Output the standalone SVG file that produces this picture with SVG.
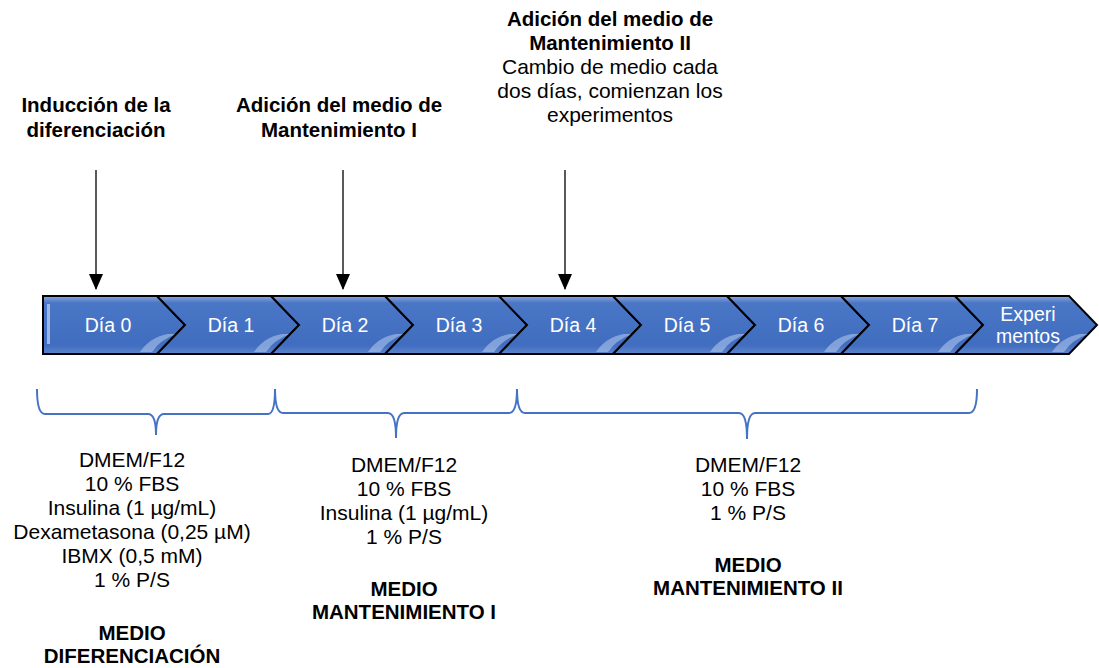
<svg xmlns="http://www.w3.org/2000/svg" width="1099" height="668" viewBox="0 0 1099 668">
<style>
text{font-family:"Liberation Sans",Arial,sans-serif;fill:#000;text-anchor:middle}
.h{font-size:20.5px;font-weight:bold}
.b{font-size:21px}
.d{font-size:19.5px;fill:#fff}
.chev{fill:url(#cg);stroke:#000;stroke-width:2;stroke-linejoin:miter}
.sw{fill:#cfe0fb;opacity:.45}
.br{fill:none;stroke:#4472c4;stroke-width:2}
.ar{stroke:#000;stroke-width:1.3;marker-end:url(#ah)}
</style>
<defs>
<linearGradient id="cg" x1="0" y1="0" x2="0" y2="1">
<stop offset="0" stop-color="#8aa8e0"/>
<stop offset="0.12" stop-color="#4a76c6"/>
<stop offset="0.85" stop-color="#416dc0"/>
<stop offset="1" stop-color="#5d83cc"/>
</linearGradient>
<marker id="ah" markerWidth="16" markerHeight="14" refX="15" refY="7" orient="auto" markerUnits="userSpaceOnUse" viewBox="0 0 16 14">
<path d="M0,0 L16,7 L0,14 Z" fill="#000"/>
</marker>
</defs>
<rect width="1099" height="668" fill="#fff"/>

<g id="chevrons">
<g id="dia0"><path class="chev" d="M43,296 L157,296 L185,325 L157,354 L43,354 Z"/><rect x="47" y="304" width="3" height="40" fill="#9db6e6"/><path class="sw" d="M140,352 Q150,337 168,334 L176,334 Q160,340 152,352 Z"/><text class="d" x="108" y="332">Día 0</text></g>
<g id="dia1"><path class="chev" d="M157,296 L271,296 L299,325 L271,354 L157,354 L185,325 Z"/><path class="sw" d="M254,352 Q264,337 282,334 L290,334 Q274,340 266,352 Z"/><text class="d" x="231" y="332">Día 1</text></g>
<g id="dia2"><path class="chev" d="M271,296 L385,296 L413,325 L385,354 L271,354 L299,325 Z"/><path class="sw" d="M368,352 Q378,337 396,334 L404,334 Q388,340 380,352 Z"/><text class="d" x="345" y="332">Día 2</text></g>
<g id="dia3"><path class="chev" d="M385,296 L499,296 L527,325 L499,354 L385,354 L413,325 Z"/><path class="sw" d="M482,352 Q492,337 510,334 L518,334 Q502,340 494,352 Z"/><text class="d" x="459" y="332">Día 3</text></g>
<g id="dia4"><path class="chev" d="M499,296 L613,296 L641,325 L613,354 L499,354 L527,325 Z"/><path class="sw" d="M596,352 Q606,337 624,334 L632,334 Q616,340 608,352 Z"/><text class="d" x="573" y="332">Día 4</text></g>
<g id="dia5"><path class="chev" d="M613,296 L727,296 L755,325 L727,354 L613,354 L641,325 Z"/><path class="sw" d="M710,352 Q720,337 738,334 L746,334 Q730,340 722,352 Z"/><text class="d" x="687" y="332">Día 5</text></g>
<g id="dia6"><path class="chev" d="M727,296 L841,296 L869,325 L841,354 L727,354 L755,325 Z"/><path class="sw" d="M824,352 Q834,337 852,334 L860,334 Q844,340 836,352 Z"/><text class="d" x="801" y="332">Día 6</text></g>
<g id="dia7"><path class="chev" d="M841,296 L955,296 L983,325 L955,354 L841,354 L869,325 Z"/><path class="sw" d="M938,352 Q948,337 966,334 L974,334 Q958,340 950,352 Z"/><text class="d" x="915" y="332">Día 7</text></g>
<g id="experimentos"><path class="chev" d="M955,296 L1069,296 L1097,325 L1069,354 L955,354 L983,325 Z"/><path class="sw" d="M1052,352 Q1062,337 1080,334 L1088,334 Q1072,340 1064,352 Z"/><text class="d" x="1028" y="321">Experi</text><text class="d" x="1028" y="343">mentos</text></g>
</g>

<g id="label-induccion"><text class="h" x="96" y="112">Inducción de la</text><text class="h" x="96" y="137">diferenciación</text></g>
<g id="label-mant1"><text class="h" x="339" y="112">Adición del medio de</text><text class="h" x="339" y="137">Mantenimiento I</text></g>
<g id="label-mant2"><text class="h" x="610" y="26">Adición del medio de</text><text class="h" x="610" y="50">Mantenimiento II</text><text class="b" x="610" y="74">Cambio de medio cada</text><text class="b" x="610" y="98">dos días, comienzan los</text><text class="b" x="610" y="122">experimentos</text></g>

<g id="connectors">
<line class="ar" x1="96" y1="170" x2="96" y2="289"/>
<line class="ar" x1="343" y1="170" x2="343" y2="289"/>
<line class="ar" x1="565" y1="170" x2="565" y2="289"/>
<path class="br" d="M37,389 Q37,414 45,414 L148,414 Q156,414 156,435 Q156,414 164,414 L268,414 Q275,414 275,389"/>
<path class="br" d="M275,389 Q275,413 283,413 L388,413 Q396,413 396,438 Q396,413 404,413 L509,413 Q517,413 517,389"/>
<path class="br" d="M517,389 Q517,413 525,413 L739,413 Q747,413 747,439 Q747,413 755,413 L969,413 Q977,413 977,389"/>
</g>

<g id="medio-diferenciacion">
<text class="b" x="132" y="467">DMEM/F12</text>
<text class="b" x="132" y="491">10 % FBS</text>
<text class="b" x="132" y="515">Insulina (1 µg/mL)</text>
<text class="b" x="132" y="539">Dexametasona (0,25 µM)</text>
<text class="b" x="132" y="563">IBMX (0,5 mM)</text>
<text class="b" x="132" y="587">1 % P/S</text>
<text class="h" x="132" y="640">MEDIO</text>
<text class="h" x="132" y="663">DIFERENCIACIÓN</text>
</g>
<g id="medio-mant1">
<text class="b" x="404" y="472">DMEM/F12</text>
<text class="b" x="404" y="496">10 % FBS</text>
<text class="b" x="404" y="520">Insulina (1 µg/mL)</text>
<text class="b" x="404" y="544">1 % P/S</text>
<text class="h" x="404" y="596">MEDIO</text>
<text class="h" x="404" y="619">MANTENIMIENTO I</text>
</g>
<g id="medio-mant2">
<text class="b" x="748" y="472">DMEM/F12</text>
<text class="b" x="748" y="496">10 % FBS</text>
<text class="b" x="748" y="520">1 % P/S</text>
<text class="h" x="748" y="572">MEDIO</text>
<text class="h" x="748" y="595">MANTENIMIENTO II</text>
</g>
</svg>
